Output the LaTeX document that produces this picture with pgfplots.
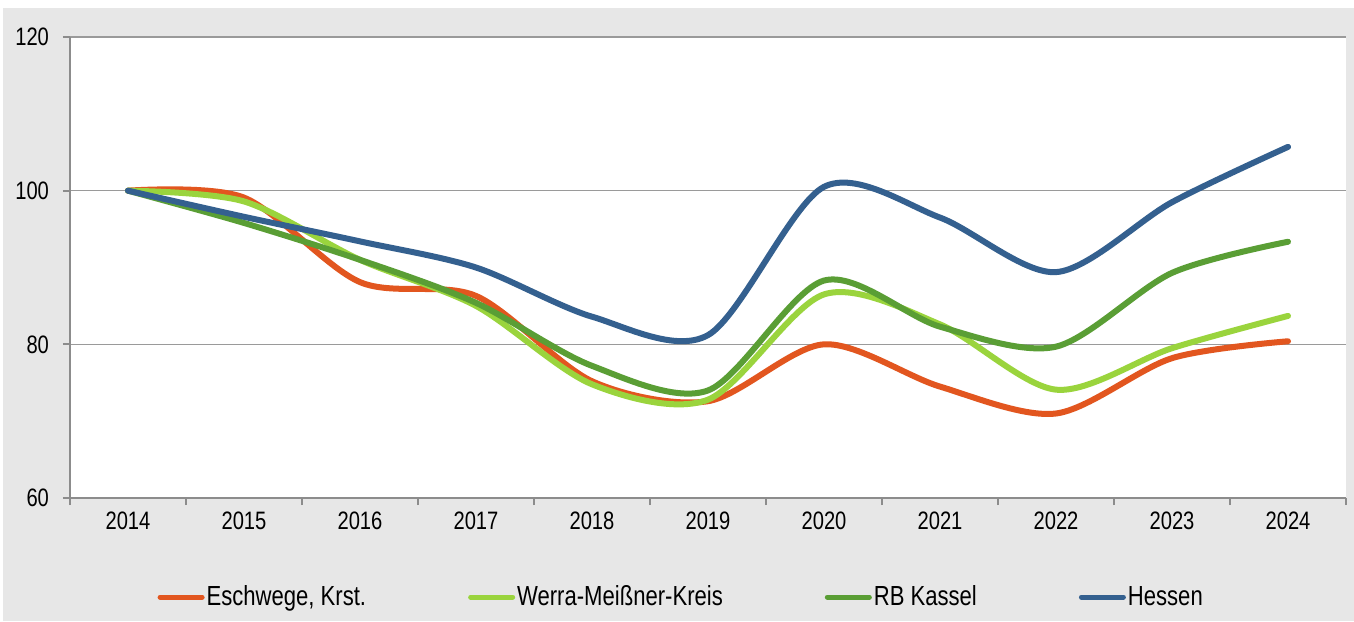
\documentclass[border=0pt]{standalone}
\usepackage{fontspec}
\setmainfont{Liberation Sans}[FakeStretch=0.8]
\usepackage{pgfplots}
\pgfplotsset{compat=1.18}
\definecolor{bg}{HTML}{E7E7E7}
\definecolor{axisgray}{HTML}{8C8C8C}
\definecolor{gridgray}{HTML}{9A9A9A}
\definecolor{corange}{HTML}{E2561F}
\definecolor{clight}{HTML}{9AD43D}
\definecolor{cdark}{HTML}{5A9E35}
\definecolor{cblue}{HTML}{34608F}
\begin{document}
\begin{tikzpicture}
\path (0pt,0pt) rectangle (677pt,310.5pt);
\fill[bg] (1.5pt,0pt) rectangle (677pt,306.5pt);
\begin{axis}[
  at={(35pt,61.5pt)}, anchor=south west,
  scale only axis, width=638pt, height=230.5pt,
  xmin=-0.5, xmax=10.5, ymin=60, ymax=120,
  axis lines*=left,
  axis line style={draw=axisgray, line width=1pt},
  axis background/.style={fill=white},
  xtick={0,...,10},
  xticklabels={2014,2015,2016,2017,2018,2019,2020,2021,2022,2023,2024},
  minor xtick={-0.5,0.5,...,10.5},
  ytick={60,80,100,120},
  ymajorgrids,
  grid style={gridgray, line width=0.6pt},
  tick align=outside,
  major tick length=3.5pt, minor tick length=3.5pt,
  major x tick style={draw=none},
  tick style={draw=axisgray, line width=1pt},
  ticklabel style={font=\fontsize{12.6}{14}\selectfont},
  yticklabel style={xshift=-3.5pt},
  /pgf/number format/assume math mode=true,
  legend columns=4,
  legend style={at={(0.479,-0.2148)}, anchor=center, draw=none, fill=none,
    font=\fontsize{13.8}{15}\selectfont, inner sep=0pt,
    nodes={inner sep=1pt},
    /tikz/every even column/.append style={column sep=50pt}},
  legend image code/.code={\draw[#1, line width=2.5pt, line cap=round] (0pt,0pt) -- (21pt,0pt);},
  every axis plot/.append style={line width=3pt, line cap=round, smooth},
]
\addplot[corange] coordinates {(0,100) (1,99.1) (2,88.1) (3,86.3) (4,75.2) (5,72.6) (6,80.0) (7,74.5) (8,71.0) (9,78.2) (10,80.4)};
\addlegendentry{Eschwege, Krst.}
\addplot[clight] coordinates {(0,100) (1,98.6) (2,91.0) (3,85.0) (4,74.8) (5,72.8) (6,86.5) (7,82.6) (8,74.1) (9,79.5) (10,83.7)};
\addlegendentry{Werra-Meißner-Kreis}
\addplot[cdark] coordinates {(0,100) (1,95.8) (2,91.0) (3,85.4) (4,77.2) (5,74.0) (6,88.3) (7,82.3) (8,79.7) (9,89.3) (10,93.35)};
\addlegendentry{RB Kassel}
\addplot[cblue] coordinates {(0,100) (1,96.6) (2,93.4) (3,90.0) (4,83.6) (5,81.2) (6,100.5) (7,96.5) (8,89.4) (9,98.5) (10,105.7)};
\addlegendentry{Hessen}
\end{axis}
\end{tikzpicture}
\end{document}
